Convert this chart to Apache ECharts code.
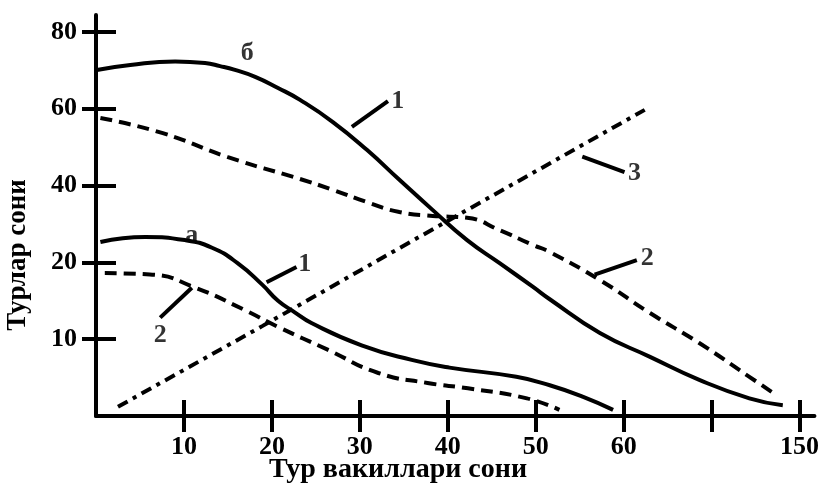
<!DOCTYPE html>
<html><head><meta charset="utf-8">
<script src="https://cdn.jsdelivr.net/npm/echarts@6/dist/echarts.min.js"></script>
<style>html,body{margin:0;padding:0;background:#fff}#c{width:822px;height:485px}</style>
</head><body><div id="c"></div><script>
// X axis: positions 10..80 with labels (70 unlabeled, 80 = 150)
const xTickPositions = [10, 20, 30, 40, 50, 60, 70, 80];
const xTickLabels = ['10', '20', '30', '40', '50', '60', '', '150'];
// Y axis: uneven labelled scale, each label equally spaced
const yTickValues = [0, 10, 20, 40, 60, 80];
const yTickLabels = ['', '10', '20', '40', '60', '80'];

const xTitle = 'Тур вакиллари сони';
const yTitle = 'Турлар сони';

// curve "б", line 1 (solid)
const curveB1 = [[0.1,70.1],[3.9,71.4],[9,72.3],[12.4,71.9],[14.1,71.1],[15.8,70.1],[18.1,68.3],[20.7,65.4],[23.2,62.3],[26.9,56.6],[30.8,49.3],[34.5,41.5],[38.3,33.6],[42.2,25.8],[45.9,19.9],[49.7,16.8],[51.6,15.2],[57.3,10.8],[63,7.7],[68.6,4.7],[74.3,2.3],[78.1,1.4]];
// curve "б", line 2 (dashed)
const curveB2 = [[0.5,57.6],[7.5,53.7],[15,47.4],[23.2,41.7],[26.9,38.9],[30.8,35.7],[34.5,33.1],[38.3,32.1],[42.2,31.6],[45.9,28.4],[49.7,24.5],[51.6,22.7],[57.3,17.7],[63,13.4],[68.6,9.5],[74.3,5.1],[77.4,2.7]];
// curve "а", line 1 (solid)
const curveA1 = [[0.5,25.3],[5.6,26.6],[10.1,25.8],[13.2,23.8],[16.1,19.9],[18.9,17.1],[20.7,15.0],[22.6,13.5],[24.5,12.1],[30.2,9.2],[35.9,7.3],[40.2,6.3],[47.8,5.1],[51.6,4.0],[55.4,2.5],[58.8,0.8]];
// curve "а", line 2 (dashed)
const curveA2 = [[1.0,18.6],[6.4,18.4],[11.3,16.7],[16.9,13.8],[20.7,11.6],[26.4,8.6],[32.1,5.6],[37.7,4.3],[42.3,3.6],[49,2.3],[52.7,0.8]];
// line 3 (dash-dot)
const line3 = [[2.5,1.2],[18.9,11.7],[34.5,23.7],[62.4,59.7]];

// annotation leaders and labels
const leaders = [
  [[29.1,55.3],[33.2,62.0]],
  [[19.4,17.4],[22.8,19.4]],
  [[10.9,16.7],[7.3,12.8]],
  [[56.7,18.4],[61.5,20.6]],
  [[55.3,47.5],[60.1,43.5]]
];
const labelTexts = ['1', '1', '2', '2', '3', 'б', 'а'];
const labelPoints = [[34.3,62.0],[23.75,19.7],[7.3,10.5],[62.7,21.1],[61.25,43.3],[17.2,74.5],[10.9,27.1]];

// map a labelled y value to its position on the uneven axis
function toPos(v) {
  for (let i = 0; i < yTickValues.length - 1; i++) {
    const a = yTickValues[i], b = yTickValues[i + 1];
    if (v <= b || i === yTickValues.length - 2) return i + (v - a) / (b - a);
  }
}
const conv = arr => arr.map(([x, v]) => [x, toPos(v)]);

const FONT = 'Liberation Serif';
const black = '#000';
const tickStyle = {color: black, width: 4};

function lineSeries(data, type, smooth) {
  return {
    type: 'line', data: conv(data), smooth: smooth, symbol: 'none', silent: true,
    lineStyle: {color: black, width: 4, type: type, cap: 'butt'}, z: 3
  };
}

const series = [
  lineSeries(curveB1, 'solid', 0.5),
  lineSeries(curveB2, [12, 7], 0.5),
  lineSeries(curveA1, 'solid', 0.5),
  lineSeries(curveA2, [12, 7], 0.5),
  lineSeries(line3, [11, 6, 4, 6], false)
];
leaders.forEach(l => series.push({
  type: 'line', data: conv(l), symbol: 'none', silent: true,
  lineStyle: {color: black, width: 4}, z: 3
}));
series.push({
  type: 'scatter', symbolSize: 0, silent: true, z: 4,
  data: labelPoints.map((p, i) => ({value: [p[0], toPos(p[1])], name: labelTexts[i]})),
  label: {show: true, position: 'inside', formatter: p => p.name,
    fontFamily: FONT, fontWeight: 'bold', fontSize: 26, color: black}
});

const chart = echarts.init(document.getElementById('c'), null, {renderer: 'canvas'});
const xBase = {type: 'value', min: 0, max: 81.7, position: 'bottom', splitLine: {show: false}};
const yBase = {type: 'value', min: 0, max: 5.22, position: 'left', splitLine: {show: false}};
chart.setOption({
  animation: false,
  backgroundColor: '#fff',
  grid: {left: 96, right: 7, top: 15, bottom: 69, containLabel: false},
  xAxis: [
    Object.assign({}, xBase, {
      axisLine: {show: true, lineStyle: {color: black, width: 4}},
      axisTick: {show: true, inside: false, length: 16, lineStyle: tickStyle, customValues: xTickPositions},
      axisLabel: {show: true, customValues: xTickPositions, margin: 18,
        formatter: v => xTickLabels[xTickPositions.indexOf(Math.round(v))] || '',
        fontFamily: FONT, fontWeight: 'bold', fontSize: 26, color: black}
    }),
    Object.assign({}, xBase, {
      axisLine: {show: false},
      axisTick: {show: true, inside: true, length: 16, lineStyle: tickStyle, customValues: xTickPositions},
      axisLabel: {show: false}
    })
  ],
  yAxis: [
    Object.assign({}, yBase, {
      axisLine: {show: true, lineStyle: {color: black, width: 4}},
      axisTick: {show: true, inside: false, length: 14, lineStyle: tickStyle, customValues: [1, 2, 3, 4, 5]},
      axisLabel: {show: true, customValues: [1, 2, 3, 4, 5], margin: 19,
        formatter: v => yTickLabels[Math.round(v)],
        fontFamily: FONT, fontWeight: 'bold', fontSize: 26, color: black}
    }),
    Object.assign({}, yBase, {
      axisLine: {show: false},
      axisTick: {show: true, inside: true, length: 20, lineStyle: tickStyle, customValues: [1, 2, 3, 4, 5]},
      axisLabel: {show: false}
    })
  ],
  graphic: [
    {type: 'text', x: 398, y: 470, silent: true,
      style: {text: xTitle, fontFamily: FONT, fontWeight: 'bold', fontSize: 28, fill: black,
        textAlign: 'center', textVerticalAlign: 'middle'}},
    {type: 'text', x: 18, y: 255, rotation: Math.PI / 2, silent: true,
      style: {text: yTitle, fontFamily: FONT, fontWeight: 'bold', fontSize: 27, fill: black,
        textAlign: 'center', textVerticalAlign: 'middle'}}
  ],
  series: series
});
</script></body></html>
